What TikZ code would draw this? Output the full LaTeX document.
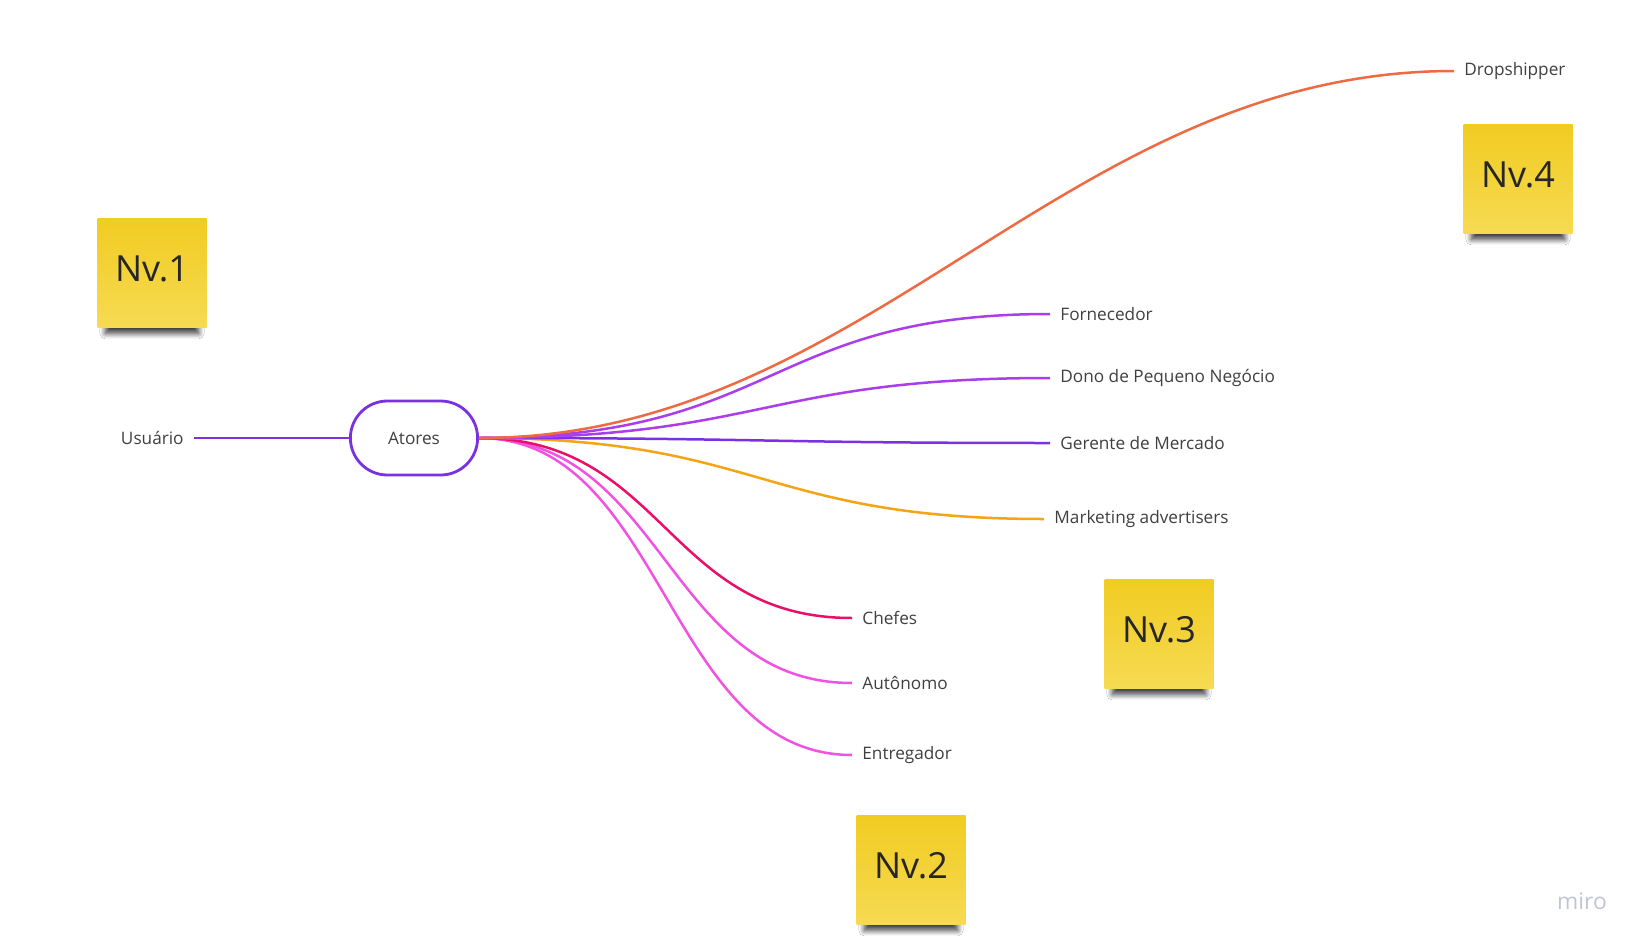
\documentclass[tikz,border=0pt]{standalone}
\usepackage{fontspec}
\setmainfont{Open Sans}
\usetikzlibrary{shadows.blur}

\definecolor{txtgray}{HTML}{404040}
\definecolor{lnviolet}{HTML}{7A31E3}
\definecolor{lnpurple}{HTML}{AB3DEB}
\definecolor{lnorange}{HTML}{EE6A42}
\definecolor{lnamber}{HTML}{F5A416}
\definecolor{lncrimson}{HTML}{E8106A}
\definecolor{lnpink}{HTML}{F152E2}
\definecolor{notetop}{HTML}{F1CC22}
\definecolor{notebot}{HTML}{F6DA52}
\definecolor{wmgray}{HTML}{C2C4D4}

\begin{document}
\begin{tikzpicture}[x=0.5pt, y=-0.5pt,
    every node/.style={font=\fontsize{8.6}{10}\selectfont, text=txtgray},
    hub/.style={rectangle, rounded corners=18.5pt, draw=lnviolet, line width=1.4pt, fill=white, minimum width=63.6pt, minimum height=37pt},
    leaf/.style={anchor=west, inner xsep=5pt},
    branch/.style={line width=1.25pt},
    sticky/.style={rectangle, minimum width=54.5pt, minimum height=54.5pt, text depth=4.8pt, top color=notetop, bottom color=notebot, font=\fontsize{18}{20}\selectfont, text=black!85,
        blur shadow={shadow xshift=0pt, shadow yshift=-8pt, shadow scale=0.86, shadow opacity=75, shadow blur radius=3pt, shadow blur steps=10}}
]
\fill[white] (0,0) rectangle (1646,948);
\useasboundingbox (0,0) rectangle (1646,948);

% Central node and left actor
\node[hub] (atores) at (414,438) {Atores};
\node[anchor=east, inner xsep=5pt] (usuario) at (194,438) {Usuário};
\draw[lnviolet, branch] (usuario.east) -- (atores.west);

% Leaf labels
\node[leaf] (drop) at (1454,71) {Dropshipper};
\node[leaf] (forn) at (1050,314) {Fornecedor};
\node[leaf] (dono) at (1050,378) {Dono de Pequeno Negócio};
\node[leaf] (ger) at (1050,443) {Gerente de Mercado};
\node[leaf] (mkt) at (1044,519) {Marketing advertisers};
\node[leaf] (chefes) at (852,618) {Chefes};
\node[leaf] (auto) at (852,683) {Autônomo};
\node[leaf] (entreg) at (852,755) {Entregador};

% Branches
\draw[lnpink, branch] (atores.east) .. controls +(186,0) and +(-186,0) .. (entreg.west);
\draw[lnpink, branch] (atores.east) .. controls +(186,0) and +(-186,0) .. (auto.west);
\draw[lncrimson, branch] (atores.east) .. controls +(186,0) and +(-186,0) .. (chefes.west);
\draw[lnamber, branch] (atores.east) .. controls +(282,0) and +(-282,0) .. (mkt.west);
\draw[lnviolet, branch] (atores.east) .. controls +(285,0) and +(-285,0) .. (ger.west);
\draw[lnpurple, branch] (atores.east) .. controls +(285,0) and +(-285,0) .. (dono.west);
\draw[lnpurple, branch] (atores.east) .. controls +(300,0) and +(-285,0) .. (forn.west);
\draw[lnorange, branch] (atores.east) .. controls +(390,0) and +(-390,0) .. (drop.west);

% Sticky notes
\node[sticky] (nv1) at (152,273) {Nv.1};
\node[sticky] (nv2) at (911,870) {Nv.2};
\node[sticky] (nv3) at (1159,634) {Nv.3};
\node[sticky] (nv4) at (1518,179) {Nv.4};

% Watermark
\node[font=\fontsize{11.4}{13}\selectfont, text=wmgray] (miro) at (1582,901) {miro};
\end{tikzpicture}
\end{document}
